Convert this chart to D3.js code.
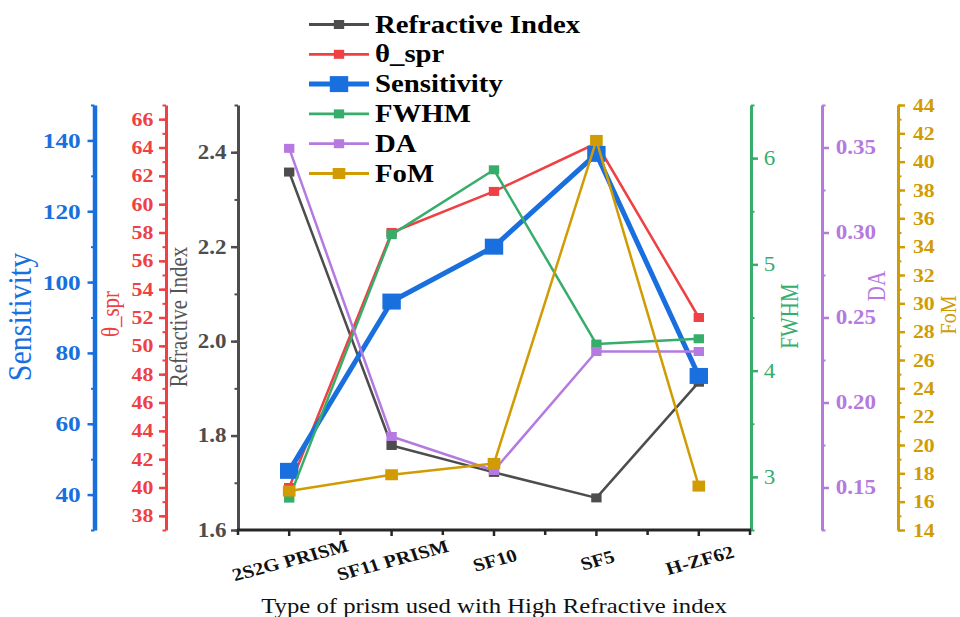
<!DOCTYPE html>
<html>
<head>
<meta charset="utf-8">
<script src="https://cdn.jsdelivr.net/npm/d3@7"></script>
<style>
  body { margin: 0; background: #fff; }
  svg { display: block; }
  text { font-family: "Liberation Serif", "Times New Roman", serif; }
</style>
</head>
<body>
<div id="chart"></div>
<script>
// prisms and the six measured quantities
const categories = ["2S2G PRISM", "SF11 PRISM", "SF10", "SF5", "H-ZF62"];
const refractiveIndex = [2.358, 1.779, 1.722, 1.668, 1.913];
const thetaSpr = [40.0, 58.0, 60.9, 64.3, 52.0];
const sensitivity = [46.7, 94.5, 110, 136.2, 73.5];
const fwhm = [2.80, 5.28, 5.89, 4.25, 4.30];
const da = [0.3495, 0.180, 0.160, 0.230, 0.230];
const fom = [16.75, 17.9, 18.7, 41.5, 17.1];

// tick labels for each axis
const riTicks = [1.6, 1.8, 2.0, 2.2, 2.4];
const thetaTicks = d3.range(38, 67, 2);
const sensTicks = [40, 60, 80, 100, 120, 140];
const fwhmTicks = [3, 4, 5, 6];
const daTicks = [0.15, 0.20, 0.25, 0.30, 0.35];
const fomTicks = d3.range(14, 45, 2);

const width = 960, height = 617;
const plot = { left: 238, right: 750, top: 105, bottom: 530 };
const SX = 1.15; // the picture is a bit wider than tall

const svg = d3.select("#chart").append("svg")
  .attr("width", width)
  .attr("height", height);

const x = d3.scalePoint()
  .domain(categories)
  .range([plot.left, plot.right])
  .padding(0.5);

const series = [
  { name: "Refractive Index", values: refractiveIndex, color: "#4d4d4d", domain: [1.6, 2.5],
    ticks: riTicks, minor: d3.range(1.6, 2.51, 0.1), fmt: ".1f", side: "left", pos: 238, pad: 3,
    axisW: 3, bold: true, fs: 20, title: "Refractive Index", tx: 187, ty: 317, tfs: 21, tcolor: "#555",
    lw: 2.5, ms: 9 },
  { name: "θ_spr", values: thetaSpr, color: "#ef4043", domain: [37, 67],
    ticks: thetaTicks, minor: d3.range(37, 67.5, 1), fmt: "d", side: "left", pos: 166, pad: 4,
    axisW: 3, bold: true, fs: 19, title: "θ_spr", tx: 119, ty: 314, tfs: 21,
    lw: 2.5, ms: 9 },
  { name: "Sensitivity", values: sensitivity, color: "#1a6fdf", domain: [30, 150],
    ticks: sensTicks, minor: d3.range(30, 151, 10), fmt: "d", side: "left", pos: 94.5, pad: 5,
    axisW: 4.5, bold: true, fs: 22, title: "Sensitivity", tx: 31, ty: 317, tfs: 30,
    lw: 5, ms: 16 },
  { name: "FWHM", values: fwhm, color: "#37ad6b", domain: [2.5, 6.5],
    ticks: fwhmTicks, minor: d3.range(2.5, 6.51, 0.5), fmt: "d", side: "right", pos: 751, pad: 4,
    axisW: 3, bold: false, fs: 20, title: "FWHM", tx: 798, ty: 316, tfs: 21,
    lw: 2.5, ms: 9 },
  { name: "DA", values: da, color: "#b57ae0", domain: [0.125, 0.375],
    ticks: daTicks, minor: d3.range(0.125, 0.376, 0.025), fmt: ".2f", side: "right", pos: 822, pad: 5,
    axisW: 3, bold: true, fs: 20, title: "DA", tx: 885, ty: 286, tfs: 21,
    lw: 2.5, ms: 9 },
  { name: "FoM", values: fom, color: "#d19c03", domain: [14, 44],
    ticks: fomTicks, minor: d3.range(14, 44.5, 1), fmt: "d", side: "right", pos: 898, pad: 6,
    axisW: 3, bold: true, fs: 19, title: "FoM", tx: 956, ty: 315, tfs: 20,
    lw: 2.5, ms: 11 }
];

series.forEach(s => {
  s.y = d3.scaleLinear().domain(s.domain).range([plot.bottom, plot.top]);
});

// y axes
series.forEach(s => {
  const make = s.side === "left" ? d3.axisLeft : d3.axisRight;
  const g = svg.append("g").attr("transform", `translate(${s.pos},0)`);

  g.append("g")
    .call(make(s.y).tickValues(s.minor).tickSize(3.5).tickFormat("").tickSizeOuter(0))
    .call(a => a.select(".domain").remove())
    .call(a => a.selectAll("line").attr("stroke", s.color).attr("stroke-width", 2));

  const major = g.append("g")
    .call(make(s.y).tickValues(s.ticks).tickSize(7).tickPadding(s.pad)
      .tickFormat(d3.format(s.fmt)).tickSizeOuter(0));
  major.select(".domain").attr("stroke", s.color).attr("stroke-width", s.axisW);
  major.selectAll(".tick line").attr("stroke", s.color).attr("stroke-width", 2.5);
  major.selectAll(".tick text")
    .attr("fill", s.color)
    .attr("font-size", s.fs)
    .attr("font-weight", s.bold ? "bold" : "normal")
    .attr("font-family", "Liberation Serif, serif")
    .attr("transform", `scale(${SX},1)`);

  svg.append("text")
    .attr("transform", `translate(${s.tx},${s.ty}) scale(${SX},1) rotate(-90)`)
    .attr("text-anchor", "middle")
    .attr("fill", s.tcolor || s.color)
    .attr("font-size", s.tfs)
    .text(s.title);
});

// x axis
const step = x.step();
const xAxis = svg.append("g").attr("transform", `translate(0,${plot.bottom})`);
xAxis.append("line")
  .attr("x1", plot.left - 1).attr("x2", plot.right + 1)
  .attr("stroke", "#262626").attr("stroke-width", 3);
xAxis.selectAll(".minor")
  .data(categories.concat([null]))
  .join("line")
  .attr("x1", (d, i) => x(categories[0]) - step / 2 + i * step)
  .attr("x2", (d, i) => x(categories[0]) - step / 2 + i * step)
  .attr("y1", 0).attr("y2", 5)
  .attr("stroke", "#262626").attr("stroke-width", 2.5);
xAxis.selectAll(".major")
  .data(categories)
  .join("line")
  .attr("x1", d => x(d)).attr("x2", d => x(d))
  .attr("y1", 0).attr("y2", 6)
  .attr("stroke", "#262626").attr("stroke-width", 2.5);
xAxis.selectAll(".lab")
  .data(categories)
  .join("text")
  .attr("transform", d => `translate(${x(d) + 3},${36}) scale(${SX},1) rotate(-17)`)
  .attr("text-anchor", "middle")
  .attr("font-size", 18)
  .attr("font-weight", "bold")
  .attr("fill", "#111")
  .text(d => d);

svg.append("text")
  .attr("transform", `translate(494,613) scale(${SX},1)`)
  .attr("text-anchor", "middle")
  .attr("font-size", 21.5)
  .attr("fill", "#111")
  .text("Type of prism used with High Refractive index");

// series lines and markers
series.forEach(s => {
  const line = d3.line()
    .x((d, i) => x(categories[i]))
    .y(d => s.y(d));
  svg.append("path")
    .datum(s.values)
    .attr("fill", "none")
    .attr("stroke", s.color)
    .attr("stroke-width", s.lw)
    .attr("stroke-linejoin", "round")
    .attr("d", line);
  svg.selectAll(null)
    .data(s.values)
    .join("rect")
    .attr("x", (d, i) => x(categories[i]) - s.ms * SX / 2)
    .attr("y", d => s.y(d) - s.ms / 2)
    .attr("width", s.ms * SX)
    .attr("height", s.ms)
    .attr("fill", s.color);
});

// legend
const legend = svg.append("g").attr("transform", "translate(309,24.5)");
series.forEach((s, i) => {
  const row = legend.append("g").attr("transform", `translate(0,${i * 29.8})`);
  row.append("line")
    .attr("x1", 0).attr("x2", 60)
    .attr("stroke", s.color).attr("stroke-width", s.lw === 5 ? 5 : 2.8);
  row.append("rect")
    .attr("x", 30 - s.ms * SX / 2).attr("y", -s.ms / 2)
    .attr("width", s.ms * SX).attr("height", s.ms)
    .attr("fill", s.color);
  row.append("text")
    .attr("transform", `translate(66,8) scale(${SX},1)`)
    .attr("font-size", 25)
    .attr("font-weight", "bold")
    .attr("fill", "#000")
    .text(s.name);
});
</script>
</body>
</html>
